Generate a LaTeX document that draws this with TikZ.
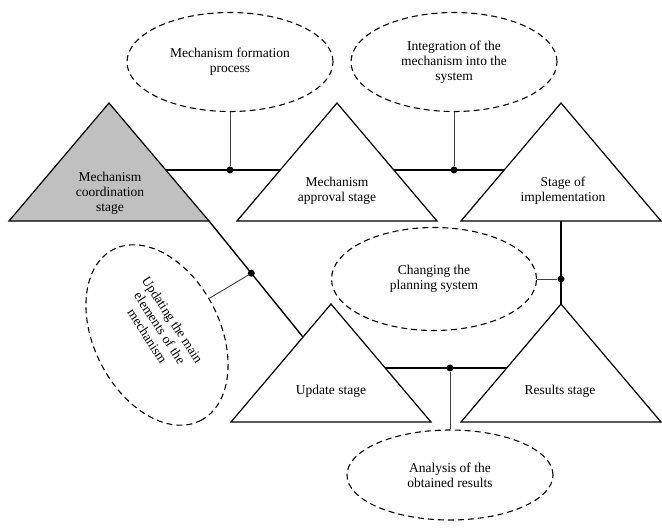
\documentclass[tikz,border=0pt]{standalone}
\usepackage{fontspec}
\setmainfont{Liberation Serif}
\usetikzlibrary{shapes.geometric,calc}
\definecolor{stagegray}{RGB}{192,192,192}
\tikzset{
  stage/.style={draw=black, line width=1.2pt, line join=miter},
  txt/.style={align=center, font=\fontsize{13.5}{15}\selectfont, inner sep=0pt},
  bubble/.style={ellipse, draw=black, dash pattern=on 6pt off 4pt, line width=1.1pt, inner sep=0pt, txt},
  link/.style={line width=1.4pt},
  tie/.style={line width=0.9pt, draw=black!75},
  junction/.style={circle, fill=black, inner sep=0pt, minimum size=7pt},
}
\begin{document}
\begin{tikzpicture}[x=1pt,y=-1pt]
\useasboundingbox (0,0) rectangle (662,530);

% corners of the five stage triangles (apex, left, right)
\coordinate (gA) at (109,103); \coordinate (gL) at (9,221);   \coordinate (gR) at (209,221);
\coordinate (aA) at (337,103); \coordinate (aL) at (237,221); \coordinate (aR) at (437,221);
\coordinate (iA) at (561,103); \coordinate (iL) at (461,221); \coordinate (iR) at (661,221);
\coordinate (uA) at (331,304); \coordinate (uL) at (231,422); \coordinate (uR) at (431,422);
\coordinate (rA) at (561,304); \coordinate (rL) at (461,422); \coordinate (rR) at (661,422);

% stage triangles
\filldraw[stage, fill=stagegray] (gA) -- (gL) -- (gR) -- cycle;
\draw[stage] (aA) -- (aL) -- (aR) -- cycle;
\draw[stage] (iA) -- (iL) -- (iR) -- cycle;
\draw[stage] (uA) -- (uL) -- (uR) -- cycle;
\draw[stage] (rA) -- (rL) -- (rR) -- cycle;

% stage captions
\node[txt] (gT) at (110,193) {Mechanism\\coordination\\stage};
\node[txt] (aT) at (337,191) {Mechanism\\approval stage};
\node[txt] (iT) at (563,191) {Stage of\\implementation};
\node[txt] (uT) at (331,391) {Update stage};
\node[txt] (rT) at (560,391) {Results stage};

% dashed process bubbles
\node[bubble, minimum width=206pt, minimum height=99pt] (form) at (230,62)
  {Mechanism formation\\process};
\node[bubble, minimum width=206pt, minimum height=99pt] (integ) at (454,62)
  {Integration of the\\mechanism into the\\system};
\node[bubble, minimum width=205pt, minimum height=103pt] (chg) at (434,279)
  {Changing the\\planning system};
\node[bubble, minimum width=206pt, minimum height=90pt] (ana) at (450,475)
  {Analysis of the\\obtained results};
\node[bubble, minimum width=192pt, minimum height=126pt, rotate=-63] (upd) at (157,335) {};
\node[txt, rotate=-57] (updT) at (160,328) {Updating the main\\elements of the\\mechanism};

% connectors between stages
\coordinate (e1) at ($(gA)!0.568!(gR)$);
\coordinate (e2) at ($(aA)!0.568!(aL)$);
\coordinate (e3) at ($(aA)!0.568!(aR)$);
\coordinate (e4) at ($(iA)!0.568!(iL)$);
\coordinate (e5) at ($(uA)!0.542!(uR)$);
\coordinate (e6) at ($(rA)!0.542!(rL)$);
\coordinate (e7) at ($(uA)!0.28!(uL)$);
\coordinate (iB) at ($(iL)!0.5!(iR)$);

\draw[link] (e1) -- (e2);
\draw[link] (e3) -- (e4);
\draw[link] (iB) -- (rA);
\draw[link] (gR) -- (e7);
\draw[link] (e5) -- (e6);

% junctions and their ties to the bubbles
\node[junction] (j1) at (form.south |- e1) {};
\node[junction] (j2) at (integ.south |- e3) {};
\node[junction] (j3) at (iB |- chg.east) {};
\node[junction] (j4) at ($(gR)!0.45!(e7)$) {};
\node[junction] (j5) at (ana.north |- e5) {};

\draw[tie] (form.south) -- (j1);
\draw[tie] (integ.south) -- (j2);
\draw[tie] (chg.east) -- (j3);
\draw[tie] (upd.98) -- (j4);
\draw[tie] (ana.north) -- (j5);
\end{tikzpicture}
\end{document}
